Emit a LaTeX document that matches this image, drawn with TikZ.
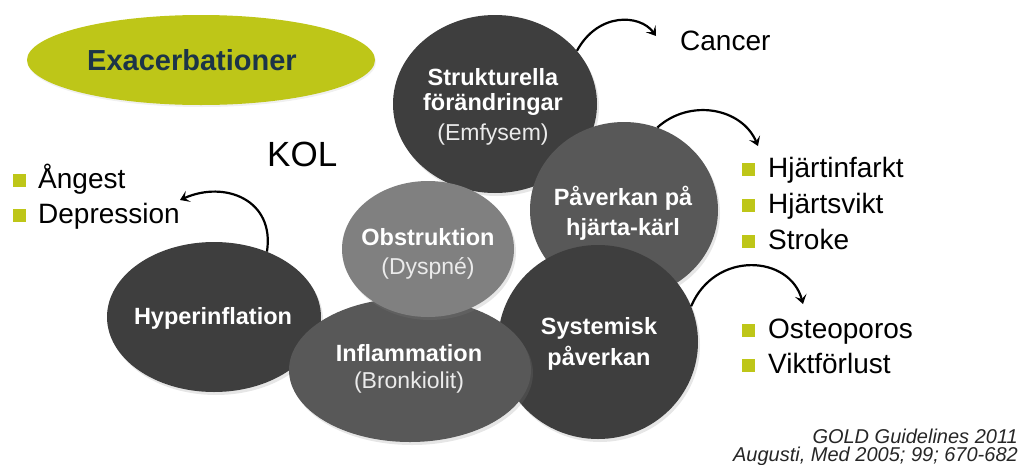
\documentclass[tikz,border=0pt]{standalone}
\usepackage{fontspec}
\setmainfont{Liberation Sans}
\usetikzlibrary{shapes.geometric,arrows.meta,shadows}
\definecolor{kgreen}{RGB}{190,198,24}
\definecolor{knavy}{RGB}{28,52,72}
\definecolor{cdark}{RGB}{62,62,62}
\definecolor{cmid}{RGB}{88,88,88}
\definecolor{clight}{RGB}{128,128,128}
\newcommand{\fsize}[1]{\fontsize{#1}{#1}\selectfont}
\begin{document}
\begin{tikzpicture}[x=1pt,y=-1pt,
  blob/.style={ellipse,inner sep=0pt,draw=none,
    drop shadow={shadow xshift=2pt,shadow yshift=-3pt,opacity=0.2}},
  ctitle/.style={text=white,font=\fsize{23.5}\bfseries,align=center,inner sep=0pt},
  csub/.style={text=white!92!black,font=\fsize{23},inner sep=0pt},
  plain/.style={text=black,font=\fsize{28},inner sep=0pt,anchor=base west},
  bsq/.style={fill=kgreen,draw=none,minimum size=13pt,inner sep=0pt,anchor=south west},
  curvarrow/.style={draw=black,line width=2.2pt,-{Stealth[length=9pt,width=12pt,inset=4pt]}},
  cite/.style={text=black!85,font=\fsize{20}\itshape,inner sep=0pt,anchor=base east}]
\useasboundingbox (0,0) rectangle (1021,464);
% Exacerbationer
\node[ellipse,fill=kgreen,minimum width=348pt,minimum height=90pt,inner sep=0pt,
  drop shadow={shadow xshift=1pt,shadow yshift=-2pt,opacity=0.12}] (exa) at (201,60) {};
\node[text=knavy,font=\fsize{29}\bfseries,inner sep=0pt] (exat) at (192,60) {Exacerbationer};
% circles (draw order matters)
\node[blob,fill=cdark,minimum width=214pt,minimum height=150pt] (hyp) at (214,317) {};
\node[blob,fill=cdark,minimum width=204pt,minimum height=178pt] (strukt) at (495,104) {};
\node[blob,fill=cmid,minimum width=188pt,minimum height=176pt] (hjarta) at (624,210) {};
\node[blob,fill=cdark,minimum width=200pt,minimum height=194pt] (syst) at (598,342) {};
\node[blob,fill=cmid,minimum width=242pt,minimum height=144pt] (infl) at (410,370) {};
\node[blob,fill=clight,minimum width=172pt,minimum height=136pt] (obst) at (428,249) {};
% circle texts
\node[ctitle] (tstrukt1) at (493,77) {Strukturella};
\node[ctitle] (tstrukt2) at (493,104) {förändringar};
\node[csub] (tstrukt3) at (493,135) {(Emfysem)};
\node[ctitle] (thj1) at (623,198) {Påverkan på};
\node[ctitle] (thj2) at (623,229) {hjärta-kärl};
\node[ctitle] (tob1) at (428,237) {Obstruktion};
\node[csub] (tob2) at (428,268) {(Dyspné)};
\node[ctitle] (thyp) at (213,318) {Hyperinflation};
\node[ctitle] (tin1) at (409,353) {Inflammation};
\node[csub] (tin2) at (409,383) {(Bronkiolit)};
\node[ctitle] (tsy1) at (599,328) {Systemisk};
\node[ctitle] (tsy2) at (599,358) {påverkan};
% KOL
\node[text=black,font=\fsize{35},inner sep=0pt,anchor=base west] (kol) at (267,166) {KOL};
% Cancer
\node[plain] (cancer) at (680,50) {Cancer};
% bullet lists
\node[bsq] (b1) at (13,187) {};
\node[plain] (angest) at (38,188) {Ångest};
\node[bsq] (b2) at (13,222) {};
\node[plain] (depr) at (38,223) {Depression};
\node[bsq] (b3) at (742,176) {};
\node[plain] (hinf) at (768,177) {Hjärtinfarkt};
\node[bsq] (b4) at (742,212) {};
\node[plain] (hsv) at (768,213) {Hjärtsvikt};
\node[bsq] (b5) at (742,248) {};
\node[plain] (strk) at (768,249) {Stroke};
\node[bsq] (b6) at (742,337) {};
\node[plain] (osteo) at (768,338) {Osteoporos};
\node[bsq] (b7) at (742,372) {};
\node[plain] (vikt) at (768,373) {Viktförlust};
% citation
\node[cite] (cite1) at (1018,443) {GOLD Guidelines 2011};
\node[cite] (cite2) at (1018,461) {Augusti, Med 2005; 99; 670-682};
% arrow end points
\coordinate (ecancer) at (656,36);
\coordinate (ehj) at (758,146);
\coordinate (esy) at (803,304);
\coordinate (ehyp) at (180,200);
% arrows
\draw[curvarrow] (strukt.33) .. controls (598,12) and (640,14) .. (ecancer);
\draw[curvarrow] (hjarta.68) .. controls (690,98) and (742,108) .. (ehj);
\draw[curvarrow] (syst.21) .. controls (715,250) and (790,255) .. (esy);
\draw[curvarrow] (hyp.51) .. controls (275,200) and (225,180) .. (ehyp);
\end{tikzpicture}
\end{document}
